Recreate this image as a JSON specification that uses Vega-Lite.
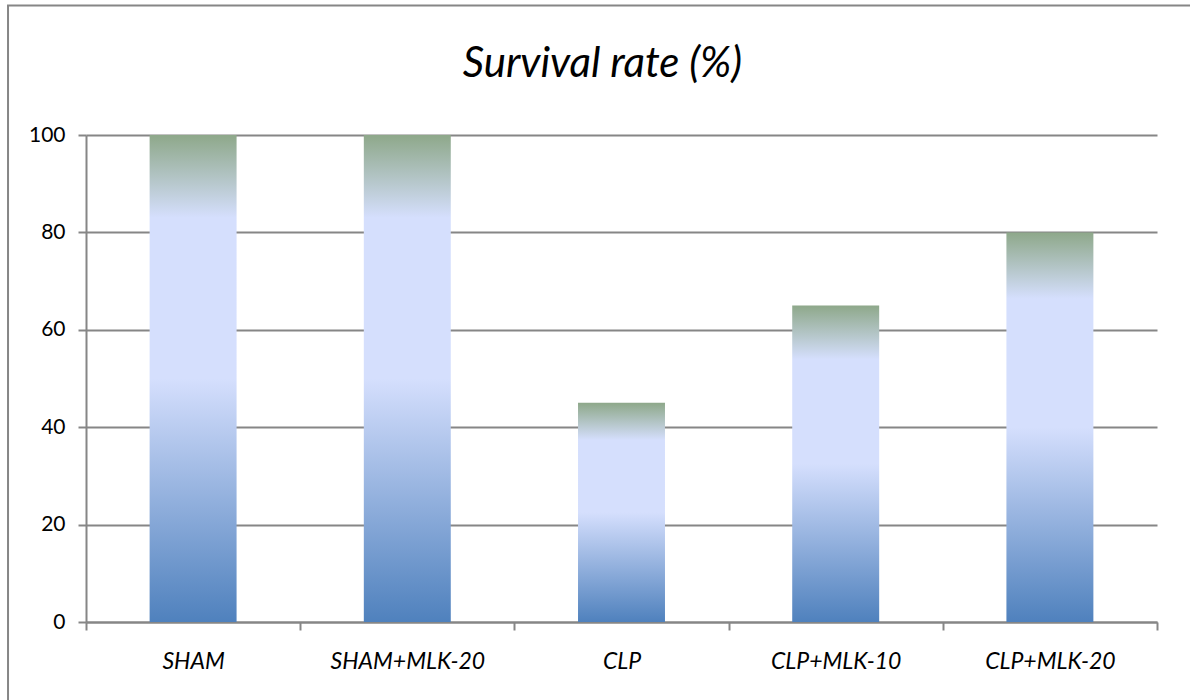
{
  "$schema": "https://vega.github.io/schema/vega-lite/v6.json",
  "width": 1071,
  "height": 487,
  "autosize": {"type": "none"},
  "padding": {"left": 86, "top": 135, "right": 33, "bottom": 78},
  "background": "white",
  "title": {
    "text": "Survival rate (%)",
    "font": "Lato",
    "fontStyle": "italic",
    "fontWeight": "normal",
    "fontSize": 42,
    "color": "black",
    "anchor": "middle",
    "baseline": "alphabetic",
    "offset": -115,
    "dx": -19
  },
  "config": {
    "view": {"stroke": null},
    "axis": {
      "labelFont": "Lato",
      "labelFontSize": 21,
      "labelColor": "black",
      "domainColor": "#868686",
      "tickColor": "#868686",
      "gridColor": "#868686",
      "domainWidth": 2,
      "tickWidth": 2,
      "gridWidth": 2,
      "tickSize": 8
    }
  },
  "resolve": {"scale": {"x": "independent"}},
  "layer": [
    {
      "data": {"values": [{"frame": 1}]},
      "mark": {"type": "rect", "fill": "white", "fillOpacity": 0, "stroke": "#868686", "strokeWidth": 2, "clip": false},
      "encoding": {
        "x": {"datum": -0.0728, "type": "quantitative", "scale": {"domain": [0, 1]}, "axis": null},
        "x2": {"datum": 1.2},
        "y": {"datum": 126.6, "type": "quantitative"},
        "y2": {"datum": -30}
      }
    },
    {
      "data": {
        "values": [
          {"group": "SHAM", "survival": 100},
          {"group": "SHAM+MLK-20", "survival": 100},
          {"group": "CLP", "survival": 45},
          {"group": "CLP+MLK-10", "survival": 65},
          {"group": "CLP+MLK-20", "survival": 80}
        ]
      },
      "mark": {
        "type": "bar",
        "width": {"band": 0.406},
        "color": {
          "gradient": "linear",
          "x1": 0, "y1": 1, "x2": 0, "y2": 0,
          "stops": [
            {"offset": 0, "color": "#4f81bd"},
            {"offset": 0.5, "color": "#d5dffd"},
            {"offset": 0.83, "color": "#d5dffd"},
            {"offset": 1, "color": "#8ea88a"}
          ]
        }
      },
      "encoding": {
        "x": {
          "field": "group",
          "type": "nominal",
          "sort": null,
          "scale": {"paddingInner": 0, "paddingOuter": 0},
          "axis": {
            "title": null,
            "labelAngle": 0,
            "labelFontStyle": "italic",
            "labelFontSize": 23,
            "labelBaseline": "alphabetic",
            "labelPadding": 38,
            "tickBand": "extent",
            "grid": false
          }
        },
        "y": {
          "field": "survival",
          "type": "quantitative",
          "scale": {"domain": [0, 100], "nice": false},
          "axis": {
            "title": null,
            "values": [0, 20, 40, 60, 80, 100],
            "labelPadding": 13,
            "grid": true
          }
        }
      }
    }
  ]
}
